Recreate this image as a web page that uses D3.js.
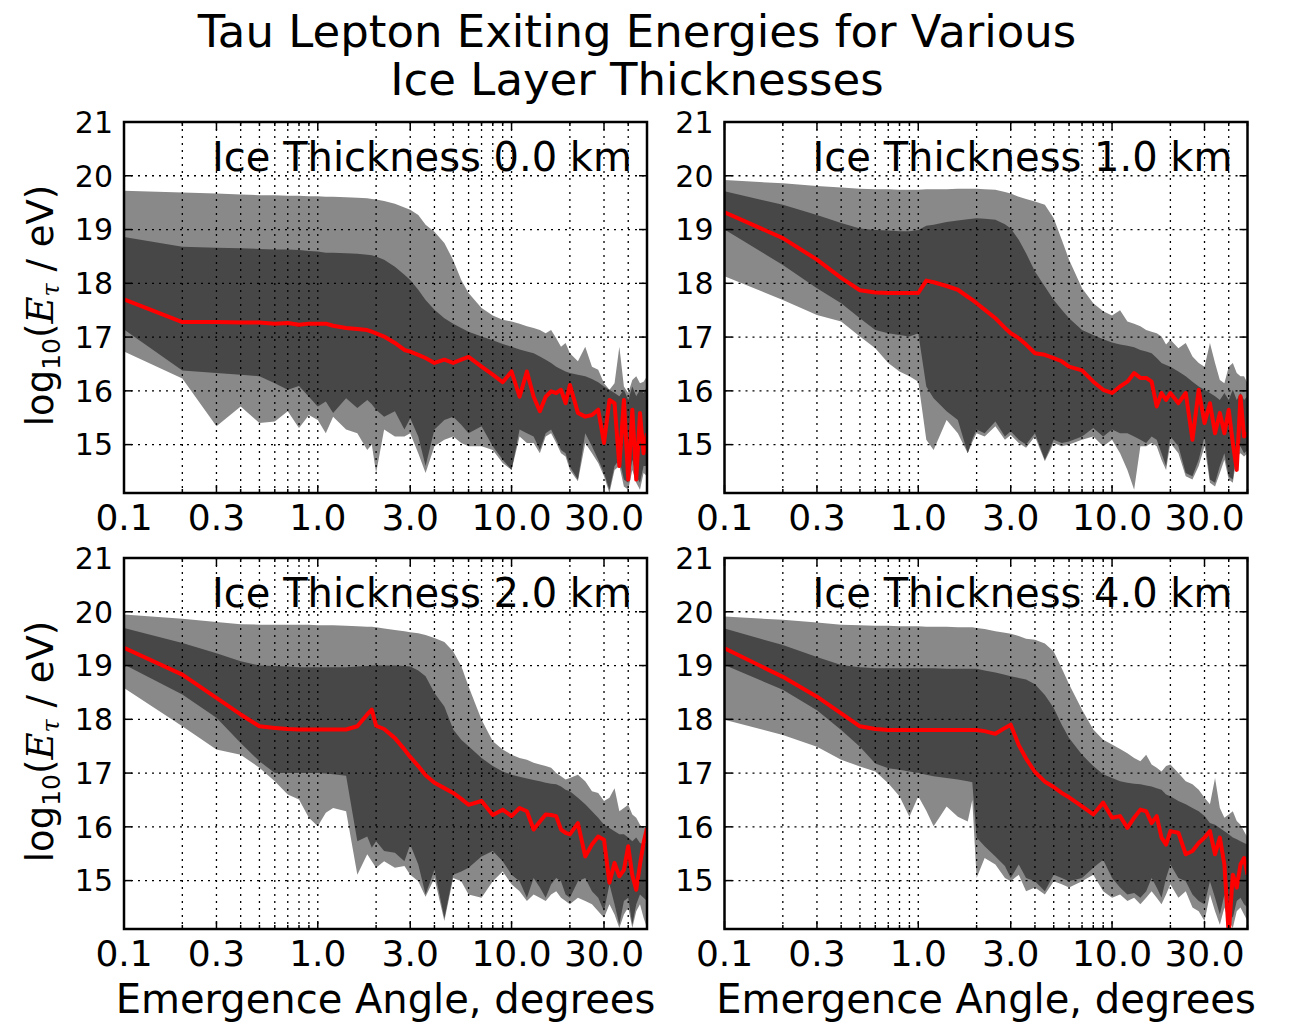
<!DOCTYPE html>
<html>
<head>
<meta charset="utf-8">
<script src="https://cdn.jsdelivr.net/npm/d3@7"></script>
<style>
body { margin: 0; background: #fff; }
text { font-family: "DejaVu Sans", sans-serif; fill: #000; }
</style>
</head>
<body>
<div id="chart"></div>
<script>
// emergence angles (degrees) shared by all four panels
var angles = [0.1,0.2,0.3,0.4,0.5,0.6,0.7,0.8,0.9,1.0, 1.1,1.2,1.4,1.6,1.8,1.9,2.0, 2.2,2.5,2.8,3.0,3.3,3.6,4.0,4.5,5.0,5.5,6.0, 7,8,9,10, 11,12,13,14,15,16,17,18,19,20, 22,24,26,28,30,32,34,36,38,40,42,44,46,48,50];

var thicknesses = ["0.0", "1.0", "2.0", "4.0"];
var titleLines = ["Tau Lepton Exiting Energies for Various", "Ice Layer Thicknesses"];
var xTickValues = [0.1, 0.3, 1, 3, 10, 30];
var xTickLabels = ["0.1", "0.3", "1.0", "3.0", "10.0", "30.0"];
var yTickValues = [15, 16, 17, 18, 19, 20, 21];

// ice 0.0 km
var ice0_hi95 = [19.72,19.69,19.67,19.65,19.64,19.64,19.63,19.63,19.62,19.62, 19.61,19.61,19.6,19.59,19.58,19.57,19.56, 19.53,19.48,19.41,19.37,19.27,19.09,18.96,18.75,18.43,18.06,17.82, 17.54,17.4,17.32,17.29, 17.25,17.2,17.17,17.13,17.07,17.13,16.98,16.82,16.89,16.7, 16.55,16.82,16.45,16.39,16.14,16.02,16.14,16.82,16.08,15.96,16.2,16.27,16.14,16.17,16.27];
var ice0_hi68 = [18.86,18.68,18.66,18.65,18.64,18.63,18.63,18.62,18.6,18.59, 18.57,18.57,18.56,18.55,18.53,18.52,18.5, 18.44,18.31,18.16,18.06,17.88,17.69,17.51,17.35,17.25,17.17,17.1, 17.01,16.94,16.87,16.82, 16.77,16.73,16.7,16.64,16.58,16.52,16.45,16.4,16.36,16.33, 16.3,16.27,16.22,16.16,16.08,16.02,15.96,15.9,16.02,15.83,16.08,15.9,16.02,15.96,16.08];
var ice0_med = [17.7,17.28,17.28,17.27,17.27,17.25,17.26,17.23,17.25,17.25, 17.25,17.21,17.17,17.15,17.13,17.1,17.07, 17.01,16.89,16.76,16.73,16.67,16.61,16.52,16.58,16.52,16.58,16.63, 16.45,16.3,16.16,16.36, 15.89,16.36,15.89,15.62,15.89,15.99,15.96,16.02,15.77,16.11, 15.59,15.52,15.55,15.65,15.03,15.83,15.77,14.6,15.83,14.35,15.65,14.35,15.59,14.84,15.21];
var ice0_lo68 = [17.14,16.38,16.33,16.3,16.27,16.14,16.02,16.09,15.89,15.71, 15.8,15.59,15.86,15.68,15.83,15.75,15.65, 15.52,15.62,15.28,15.49,15.15,14.6,15.28,15.46,15.52,15.37,15.21, 15.34,14.97,14.72,14.53, 15.28,15.21,15.15,14.9,15.21,15.28,15.09,14.9,14.84,14.59, 14.35,15.21,14.97,14.72,14.47,14.16,14.6,14.72,14.35,14.29,14.72,14.41,14.29,14.6,14.6];
var ice0_lo95 = [16.73,16.23,15.34,15.71,15.4,15.43,15.62,15.31,15.55,15.46, 15.21,15.52,15.28,15.21,14.9,15.0,14.47, 15.28,15.15,15.15,15.21,14.84,14.47,14.97,15.09,15.15,15.03,14.97, 14.97,14.9,14.66,14.53, 15.15,15.03,15.03,14.84,15.15,15.21,15.03,14.84,14.78,14.53, 14.32,15.03,14.84,14.66,14.41,14.1,14.53,14.6,14.22,14.16,14.53,14.29,14.16,14.47,14.41];

// ice 1.0 km
var ice1_hi95 = [19.92,19.86,19.81,19.78,19.76,19.75,19.75,19.74,19.74,19.74, 19.75,19.75,19.75,19.76,19.76,19.76,19.76, 19.75,19.74,19.7,19.67,19.61,19.57,19.52,19.46,19.21,18.81,18.44, 17.91,17.63,17.48,17.4, 17.5,17.29,17.25,17.2,17.13,17.1,17.07,17.01,16.86,16.95, 16.79,16.89,16.64,16.52,16.45,16.89,16.52,16.2,16.14,16.45,16.52,16.33,16.27,16.27,16.14];
var ice1_hi68 = [19.71,19.46,19.27,19.12,19.02,18.99,18.98,18.97,18.97,18.99, 19.07,19.09,19.14,19.17,19.19,19.2,19.21, 19.2,19.18,19.1,19.02,18.81,18.56,18.22,17.94,17.69,17.51,17.35, 17.13,17.04,16.96,16.9, 16.86,16.84,16.81,16.76,16.73,16.7,16.61,16.52,16.48,16.45, 16.36,16.27,16.17,16.08,16.02,15.96,15.9,15.83,15.96,15.83,16.02,15.83,15.96,15.83,15.9];
var ice1_med = [19.32,18.84,18.44,18.1,17.87,17.83,17.82,17.82,17.82,17.82, 18.05,18.02,17.95,17.88,17.75,17.69,17.63, 17.51,17.35,17.17,17.07,16.98,16.86,16.7,16.67,16.61,16.55,16.45, 16.38,16.17,16.02,15.96, 16.08,16.17,16.33,16.24,16.24,16.17,15.71,15.96,15.83,15.96, 15.77,15.96,15.09,16.02,15.4,15.77,15.21,15.59,15.21,15.65,15.03,14.53,15.9,15.15,15.21];
var ice1_lo68 = [19.0,18.34,17.91,17.63,17.35,17.13,17.07,17.04,17.01,17.07, 16.08,15.86,15.62,15.46,14.84,15.1,15.28, 15.21,15.43,15.15,15.25,15.09,15.0,15.21,14.72,15.09,15.03,15.06, 15.15,15.31,15.15,15.28, 15.21,15.21,15.15,15.09,15.03,15.15,15.09,14.84,14.6,15.15, 14.97,14.47,14.41,14.72,15.15,14.35,14.29,14.6,14.84,14.41,14.35,14.9,14.97,14.84,14.9];
var ice1_lo95 = [18.13,17.69,17.41,17.29,17.01,16.79,16.52,16.36,16.27,16.17, 15.09,14.9,15.46,15.21,14.84,15.05,15.21, 15.15,15.34,15.09,15.18,15.03,14.94,15.15,14.69,15.03,14.97,15.0, 15.09,15.15,14.97,15.09, 14.84,14.53,14.16,14.97,14.97,15.03,14.97,14.72,14.53,15.03, 14.84,14.41,14.35,14.6,14.97,14.29,14.22,14.47,14.72,14.35,14.29,14.78,14.84,14.78,14.84];

// ice 2.0 km
var ice2_hi95 = [19.95,19.87,19.81,19.77,19.76,19.76,19.76,19.76,19.76,19.75, 19.75,19.75,19.74,19.73,19.72,19.72,19.71, 19.69,19.66,19.64,19.62,19.6,19.57,19.51,19.44,19.26,18.99,18.61, 17.99,17.59,17.44,17.34, 17.28,17.25,17.19,17.16,17.13,17.1,17.0,16.94,16.88,16.91, 16.97,16.85,16.66,16.63,16.48,16.54,16.72,16.29,16.35,16.41,16.23,16.17,16.04,15.98,15.98];
var ice2_hi68 = [19.7,19.42,19.23,19.08,19.0,18.99,18.98,18.97,18.97,18.97, 18.97,18.97,18.97,18.98,18.99,19.0,19.0, 19.0,19.0,18.99,18.98,18.91,18.8,18.49,18.24,17.81,17.62,17.5, 17.28,17.13,17.03,16.97, 16.93,16.9,16.87,16.85,16.82,16.8,16.79,16.75,16.69,16.66, 16.54,16.42,16.29,16.17,16.04,15.98,15.92,15.86,15.86,15.8,15.73,15.8,15.7,15.67,15.73];
var ice2_med = [19.33,18.83,18.4,18.09,17.87,17.84,17.82,17.81,17.81,17.81, 17.81,17.81,17.81,17.87,18.09,18.18,17.88, 17.82,17.65,17.44,17.3,17.13,16.96,16.82,16.72,16.63,16.52,16.41, 16.48,16.22,16.32,16.2, 16.35,16.29,15.95,16.1,16.23,16.22,16.2,15.95,15.89,15.86, 16.07,15.45,15.67,15.82,15.76,14.96,15.33,15.08,15.2,15.64,15.1,14.83,15.3,15.7,15.98];
var ice2_lo68 = [19.02,18.46,18.03,17.56,17.22,17.0,17.0,17.0,17.0,17.0, 16.99,16.98,16.95,15.73,15.82,15.61,15.73, 15.55,15.52,15.36,15.67,15.3,14.74,15.2,14.3,15.11,15.17,15.24, 15.45,15.55,15.36,15.11, 14.99,14.68,15.05,14.87,14.68,14.93,15.05,14.99,14.74,14.68, 14.99,15.05,14.8,14.68,14.43,14.93,14.56,14.18,14.62,14.68,14.18,14.56,14.74,14.68,14.62];
var ice2_lo95 = [18.58,17.87,17.44,17.34,17.1,16.85,16.6,16.51,16.17,16.01, 16.26,16.35,16.29,15.11,15.49,15.36,15.24, 15.36,15.24,15.27,15.11,14.99,14.7,15.05,14.25,15.05,14.99,14.74, 14.68,14.99,15.17,14.93, 14.8,14.62,14.74,14.68,14.62,14.74,14.8,14.68,14.62,14.56, 14.68,14.62,14.56,14.43,14.31,14.56,14.37,14.12,14.37,14.5,14.12,14.43,14.56,14.31,14.12];

// ice 4.0 km
var ice3_hi95 = [19.91,19.85,19.8,19.76,19.75,19.74,19.74,19.73,19.73,19.73, 19.72,19.72,19.72,19.71,19.71,19.71,19.7, 19.68,19.64,19.61,19.59,19.55,19.5,19.48,19.41,19.26,18.95,18.65, 18.18,17.81,17.62,17.53, 17.45,17.37,17.28,17.22,17.34,17.16,17.1,17.03,17.13,17.16, 17.0,16.85,16.79,16.69,16.54,16.42,16.91,16.35,16.17,16.23,16.29,16.11,16.04,15.92,15.8];
var ice3_hi68 = [19.69,19.38,19.16,19.01,18.97,18.95,18.95,18.95,18.95,18.95, 18.95,18.95,18.94,18.94,18.94,18.94,18.94, 18.91,18.87,18.83,18.8,18.77,18.74,18.65,18.45,18.21,17.9,17.65, 17.34,17.13,16.98,16.91, 16.85,16.82,16.8,16.79,16.77,16.75,16.72,16.69,16.6,16.57, 16.48,16.42,16.35,16.29,16.2,16.07,16.04,15.98,15.92,15.86,15.8,15.77,15.73,15.7,15.67];
var ice3_med = [19.32,18.79,18.42,18.11,17.87,17.82,17.8,17.8,17.8,17.8, 17.8,17.8,17.8,17.8,17.8,17.8,17.8, 17.78,17.73,17.84,17.9,17.52,17.27,17.02,16.84,16.74,16.63,16.55, 16.38,16.23,16.45,16.17, 16.2,15.98,16.17,16.32,16.29,16.07,16.2,15.8,15.67,15.92, 15.89,15.49,15.55,15.7,15.8,15.92,15.49,15.8,15.3,14.0,15.11,14.87,15.3,15.42,15.11];
var ice3_lo68 = [19.01,18.55,18.17,17.8,17.49,17.18,17.09,17.06,17.03,17.0, 16.97,16.94,16.91,16.88,16.85,16.83,15.8, 15.64,15.45,15.27,15.05,15.3,15.05,14.99,14.8,15.11,15.05,14.99, 15.05,15.24,15.39,15.05, 14.87,14.74,14.77,14.68,14.8,15.05,14.87,14.68,15.05,15.3, 15.05,14.99,14.74,14.62,14.56,14.99,14.68,14.37,14.74,14.43,14.31,14.62,14.68,14.56,14.5];
var ice3_lo95 = [17.99,17.71,17.49,17.25,17.12,17.03,16.81,16.57,16.19,16.57, 16.3,16.01,16.38,16.19,16.1,16.5,15.05, 15.42,15.3,15.05,14.99,15.11,14.8,14.87,14.74,14.99,14.93,14.87, 14.99,15.11,14.8,14.68, 14.74,14.62,14.68,14.56,14.68,14.8,14.68,14.56,14.74,14.93, 14.68,14.8,14.5,14.43,14.25,14.74,14.43,14.18,14.5,14.25,14.12,14.43,14.5,14.37,14.25];

var panels = [
  {thick: thicknesses[0], lo95: ice0_lo95, lo68: ice0_lo68, med: ice0_med, hi68: ice0_hi68, hi95: ice0_hi95},
  {thick: thicknesses[1], lo95: ice1_lo95, lo68: ice1_lo68, med: ice1_med, hi68: ice1_hi68, hi95: ice1_hi95},
  {thick: thicknesses[2], lo95: ice2_lo95, lo68: ice2_lo68, med: ice2_med, hi68: ice2_hi68, hi95: ice2_hi95},
  {thick: thicknesses[3], lo95: ice3_lo95, lo68: ice3_lo68, med: ice3_med, hi68: ice3_hi68, hi95: ice3_hi95}
];

var pw = 523, ph = 371;
var spots = [[124, 122], [724.5, 122], [124, 558], [724.5, 558]];

var svg = d3.select("#chart")
  .append("svg")
  .attr("width", 1291)
  .attr("height", 1025);

svg.append("rect").attr("width", 1291).attr("height", 1025).attr("fill", "#fff");

svg.selectAll(".title")
  .data(titleLines)
  .enter().append("text")
  .attr("x", 637)
  .attr("y", function(d, i) { return 47 + i * 48; })
  .attr("text-anchor", "middle")
  .style("font-size", "45px")
  .text(function(d) { return d; });

var x = d3.scaleLog().domain([0.1, 50]).range([0, pw]);
var y = d3.scaleLinear().domain([14.1, 21]).range([ph, 0]);

// every log tick 0.1..0.9, 1..9, 10..50
var gridX = [];
[0.1, 1, 10].forEach(function(dec) {
  for (var k = 1; k < 10; k++) {
    var v = +(dec * k).toFixed(2);
    if (v <= 50) gridX.push(v);
  }
});

var band = d3.area()
  .defined(function(d) { return d.lo != null && d.hi != null; })
  .x(function(d) { return x(d.a); })
  .y0(function(d) { return y(d.lo); })
  .y1(function(d) { return y(d.hi); });

var medLine = d3.line()
  .defined(function(d) { return d.v != null; })
  .x(function(d) { return x(d.a); })
  .y(function(d) { return y(d.v); });

panels.forEach(function(p, i) {
  var g = svg.append("g")
    .attr("transform", "translate(" + spots[i][0] + "," + spots[i][1] + ")");

  g.append("clipPath").attr("id", "clip" + i)
    .append("rect").attr("width", pw).attr("height", ph);

  var plot = g.append("g").attr("clip-path", "url(#clip" + i + ")");

  var outer = angles.map(function(a, j) { return {a: a, lo: p.lo95[j], hi: p.hi95[j]}; });
  var inner = angles.map(function(a, j) { return {a: a, lo: p.lo68[j], hi: p.hi68[j]}; });
  var mid = angles.map(function(a, j) { return {a: a, v: p.med[j]}; });

  plot.append("path").datum(outer).attr("d", band).attr("fill", "#898989");
  plot.append("path").datum(inner).attr("d", band).attr("fill", "#474747");

  // dotted grid
  plot.selectAll(".gx")
    .data(gridX.filter(function(v) { return v > 0.1 && v < 50; }))
    .enter().append("line")
    .attr("x1", function(d) { return x(d); }).attr("x2", function(d) { return x(d); })
    .attr("y1", 0).attr("y2", ph)
    .attr("stroke", "#000").attr("stroke-width", 1.3).attr("stroke-dasharray", "2,5");
  plot.selectAll(".gy")
    .data(yTickValues.filter(function(v) { return v < 21; }))
    .enter().append("line")
    .attr("x1", 0).attr("x2", pw)
    .attr("y1", function(d) { return y(d); }).attr("y2", function(d) { return y(d); })
    .attr("stroke", "#000").attr("stroke-width", 1.3).attr("stroke-dasharray", "2,5");

  plot.append("path").datum(mid)
    .attr("d", medLine)
    .attr("fill", "none")
    .attr("stroke", "#ff0000")
    .attr("stroke-width", 4)
    .attr("stroke-linejoin", "round");

  // inward ticks on all sides
  gridX.forEach(function(v) {
    var len = xTickValues.indexOf(v) >= 0 ? 8 : 4;
    g.append("line").attr("x1", x(v)).attr("x2", x(v)).attr("y1", ph).attr("y2", ph - len)
      .attr("stroke", "#000").attr("stroke-width", 1.5);
    g.append("line").attr("x1", x(v)).attr("x2", x(v)).attr("y1", 0).attr("y2", len)
      .attr("stroke", "#000").attr("stroke-width", 1.5);
  });
  yTickValues.forEach(function(v) {
    g.append("line").attr("x1", 0).attr("x2", 8).attr("y1", y(v)).attr("y2", y(v))
      .attr("stroke", "#000").attr("stroke-width", 1.5);
    g.append("line").attr("x1", pw).attr("x2", pw - 8).attr("y1", y(v)).attr("y2", y(v))
      .attr("stroke", "#000").attr("stroke-width", 1.5);
  });

  g.append("rect")
    .attr("width", pw).attr("height", ph)
    .attr("fill", "none").attr("stroke", "#000").attr("stroke-width", 2.5);

  g.selectAll(".xl")
    .data(xTickValues)
    .enter().append("text")
    .attr("x", function(d) { return x(d); })
    .attr("y", ph + 37)
    .attr("text-anchor", "middle")
    .style("font-size", "36px")
    .text(function(d, k) { return xTickLabels[k]; });

  g.selectAll(".yl")
    .data(yTickValues)
    .enter().append("text")
    .attr("x", -11)
    .attr("y", function(d) { return y(d); })
    .attr("dy", "0.36em")
    .attr("text-anchor", "end")
    .style("font-size", "30px")
    .text(function(d) { return d; });

  g.append("text")
    .attr("x", pw - 15)
    .attr("y", 49)
    .attr("text-anchor", "end")
    .style("font-size", "40px")
    .text("Ice Thickness " + p.thick + " km");

  if (i >= 2) {
    g.append("text")
      .attr("x", pw / 2)
      .attr("y", ph + 84)
      .attr("text-anchor", "middle")
      .style("font-size", "40px")
      .text("Emergence Angle, degrees");
  }

  if (i % 2 == 0) {
    var yl = g.append("text")
      .attr("transform", "translate(-71," + (ph / 2 - 2) + ") rotate(-90)")
      .attr("text-anchor", "middle")
      .style("font-size", "37px");
    yl.append("tspan").text("log");
    yl.append("tspan").attr("dy", 7).style("font-size", "25px").text("10");
    yl.append("tspan").attr("dy", -7).text("(");
    yl.append("tspan").style("font-family", "DejaVu Serif").style("font-style", "italic").text("E");
    yl.append("tspan").attr("dy", 6).style("font-family", "DejaVu Serif").style("font-style", "italic").style("font-size", "24px").text("τ");
    yl.append("tspan").attr("dy", -6).text(" / eV)");
  }
});
</script>
</body>
</html>
